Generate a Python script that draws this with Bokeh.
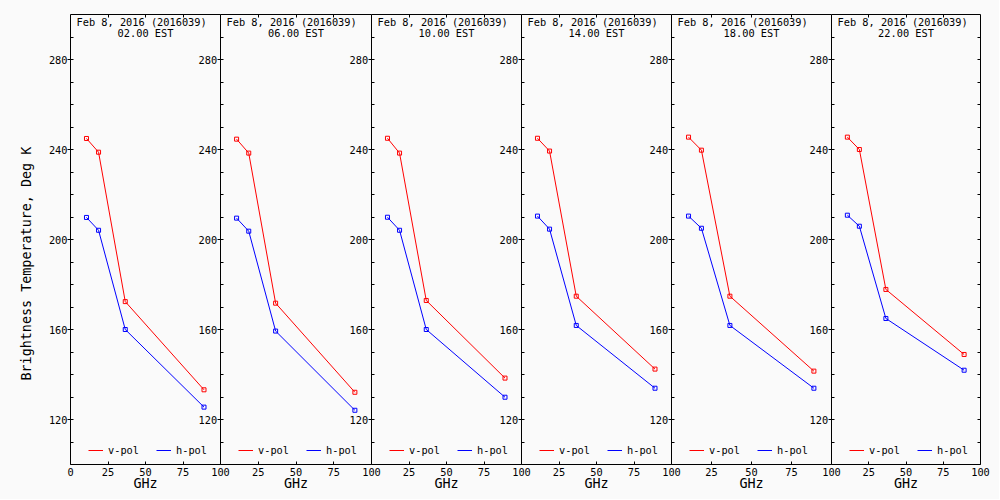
from bokeh.plotting import figure
from bokeh.models import LinearAxis, FixedTicker, Legend, LegendItem, Label, Title, Row
from bokeh.embed import file_html
from bokeh.resources import INLINE

# ---- data ----
freqs = [10.65, 18.7, 36.5, 89.0]          # GHz channels
v_0200 = [244.9, 238.8, 172.4, 133.2]
h_0200 = [209.8, 204.1, 160.0, 125.5]
v_0600 = [244.6, 238.4, 171.7, 132.1]
h_0600 = [209.5, 203.7, 159.3, 124.1]
v_1000 = [245.0, 238.4, 172.9, 138.4]
h_1000 = [209.9, 204.1, 160.0, 129.9]
v_1400 = [245.0, 239.3, 174.8, 142.4]
h_1400 = [210.4, 204.6, 161.8, 133.9]
v_1800 = [245.5, 239.7, 174.8, 141.5]
h_1800 = [210.4, 205.0, 161.8, 133.9]
v_2200 = [245.5, 240.0, 177.8, 148.9]
h_2200 = [210.8, 205.9, 164.9, 141.9]
times = ["02.00 EST", "06.00 EST", "10.00 EST", "14.00 EST", "18.00 EST", "22.00 EST"]
date_label = "Feb  8, 2016 (2016039)"
y_major = [120, 160, 200, 240, 280]
y_minor = [110, 130, 140, 150, 170, 180, 190, 210, 220, 230, 250, 260, 270, 290]
x_ticks_first = [0, 25, 50, 75, 100]
x_ticks_rest = [25, 50, 75, 100]
x_inner = [25, 50, 75]

v_series = [v_0200, v_0600, v_1000, v_1400, v_1800, v_2200]
h_series = [h_0200, h_0600, h_1000, h_1400, h_1800, h_2200]

FONT = "DejaVu Sans Mono"
SMALL = "10.3px"
BIG = "13.4px"
RED = "#ff0000"
BLUE = "#0000ff"
INK = "#000000"
BG = "#fafafa"
frame_widths = [150, 151, 150, 150, 160, 149]
RB = 12

figs = []
for i in range(6):
    first = i == 0
    last = i == 5
    p = figure(frame_width=frame_widths[i], frame_height=450,
               x_range=(0, 100), y_range=(100, 300),
               x_axis_location=None, y_axis_location=None,
               toolbar_location=None, output_backend="svg",
               min_border_left=70 if first else 0,
               min_border_right=19 if last else RB,
               min_border_top=14, min_border_bottom=35,
               border_fill_color=None, background_fill_color=None,
               outline_line_color=None,
               margin=(0, 0, 0, 0) if first else (0, 0, 0, -RB))
    p.xgrid.visible = False
    p.ygrid.visible = False

    # bottom axis
    bottom = LinearAxis(ticker=FixedTicker(ticks=x_ticks_first if first else x_ticks_rest, minor_ticks=[]),
                        axis_label="GHz")
    bottom.major_tick_in = 3
    bottom.major_tick_out = 0
    bottom.major_label_standoff = 3
    bottom.axis_label_standoff = -3
    bottom.major_label_text_font = FONT
    bottom.major_label_text_font_size = SMALL
    bottom.major_label_text_color = INK
    bottom.axis_label_text_font = FONT
    bottom.axis_label_text_font_size = BIG
    bottom.axis_label_text_font_style = "normal"
    bottom.axis_label_text_color = INK
    p.add_layout(bottom, "below")

    # top axis (ticks only, as minor ticks so no labels are drawn)
    top = LinearAxis(ticker=FixedTicker(ticks=[], minor_ticks=x_inner))
    top.minor_tick_in = 3
    top.minor_tick_out = 0
    top.major_tick_in = 0
    top.major_tick_out = 0
    top.major_label_standoff = 0
    p.add_layout(top, "above")

    # left axis only on the first panel
    if first:
        left = LinearAxis(ticker=FixedTicker(ticks=y_major, minor_ticks=y_minor))
        left.major_tick_in = 3
        left.major_tick_out = 3
        left.minor_tick_in = 3
        left.minor_tick_out = 0
        left.major_label_standoff = 0
        left.major_label_text_font = FONT
        left.major_label_text_font_size = SMALL
        left.major_label_text_color = INK
        p.add_layout(left, "left")
        p.add_layout(Title(text="Brightness Temperature, Deg K", align="left", offset=84,
                           text_font=FONT, text_font_size=BIG, text_font_style="normal",
                           text_color=INK, standoff=24), "left")

    # right axis: for inner boundaries it carries the next panel's labels
    if last:
        right = LinearAxis(ticker=FixedTicker(ticks=[], minor_ticks=sorted(y_major + y_minor)))
        right.major_tick_in = 0
        right.major_tick_out = 0
        right.minor_tick_in = 3
        right.minor_tick_out = 0
        right.major_label_standoff = 0
    else:
        right = LinearAxis(ticker=FixedTicker(ticks=y_major, minor_ticks=y_minor))
        right.major_tick_in = 3
        right.major_tick_out = 3
        right.minor_tick_in = 0
        right.minor_tick_out = 3
        right.major_label_standoff = -25
        right.major_label_text_font = FONT
        right.major_label_text_font_size = SMALL
        right.major_label_text_color = INK
    p.add_layout(right, "right")

    # data
    lv = p.line(freqs, v_series[i], line_color=RED, line_width=1)
    p.scatter(freqs, v_series[i], marker="square", size=4, fill_color=None,
              line_color=RED, line_width=1)
    lh = p.line(freqs, h_series[i], line_color=BLUE, line_width=1)
    p.scatter(freqs, h_series[i], marker="square", size=4, fill_color=None,
              line_color=BLUE, line_width=1)

    # panel titles
    p.add_layout(Label(x=0, y=296.6, x_offset=6, text=date_label, text_align="left",
                       text_baseline="middle", text_font=FONT, text_font_size=SMALL,
                       text_color=INK))
    p.add_layout(Label(x=50, y=291.6, text=times[i], text_align="center",
                       text_baseline="middle", text_font=FONT, text_font_size=SMALL,
                       text_color=INK))

    legend = Legend(items=[LegendItem(label="v-pol", renderers=[lv]),
                           LegendItem(label="h-pol", renderers=[lh])],
                    location=(18, 4), orientation="horizontal",
                    glyph_width=15, glyph_height=20, label_standoff=5, spacing=17,
                    padding=0, margin=0, border_line_color=None,
                    background_fill_color=None,
                    label_text_font=FONT, label_text_font_size=SMALL,
                    label_text_color=INK)
    p.add_layout(legend)
    figs.append(p)

layout = Row(children=figs, spacing=0, styles={"background-color": BG})

open("out.html", "w").write(file_html(layout, INLINE))
